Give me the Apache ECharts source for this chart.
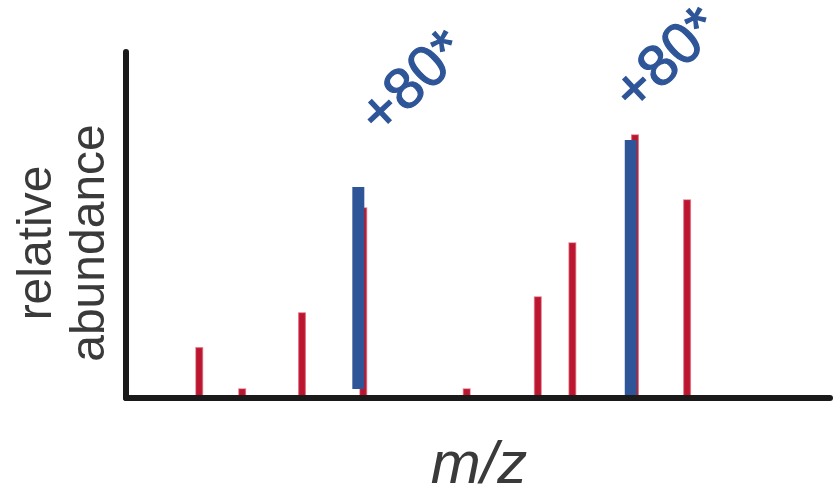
<!DOCTYPE html>
<html>
<head>
<meta charset="utf-8">
<script src="https://cdn.jsdelivr.net/npm/echarts@6/dist/echarts.min.js"></script>
<style>html,body{margin:0;padding:0;background:#fff;}#c{width:835px;height:490px;}</style>
</head>
<body>
<div id="c"></div>
<script>
// m/z positions (arbitrary units, 0-100) and relative abundance (0-100)
var redMz = [10.4, 16.5, 25.0, 33.7, 48.4, 58.5, 63.4, 72.3, 79.7];
var redAbund = [14.5, 2.6, 24.6, 54.9, 2.6, 29.2, 44.8, 76.0, 57.2];
var blueMz = [33.0, 71.7];
var blueLow = [2.6, 0.3];
var blueHigh = [61.0, 74.6];
var blueLabels = ['+80*', '+80*'];
var xTitle = 'm/z';
var yTitle = 'relative\nabundance';

var redData = redMz.map(function (m, i) { return [m, 0, redAbund[i]]; });
var blueData = blueMz.map(function (m, i) { return [m, blueLow[i], blueHigh[i]]; });

function stick(width, color, edge) {
  return function (params, api) {
    var top = api.coord([api.value(0), api.value(2)]);
    var bot = api.coord([api.value(0), api.value(1)]);
    return {
      type: 'rect',
      shape: { x: top[0] - width / 2, y: top[1], width: width, height: bot[1] - top[1] },
      style: { fill: color, stroke: edge || null, lineWidth: edge ? 1.5 : 0 }
    };
  };
}

var chart = echarts.init(document.getElementById('c'));
chart.setOption({
  animation: false,
  grid: { left: 126, right: 5, top: 52, bottom: 92 },
  xAxis: {
    type: 'value', min: 0, max: 100, z: 10,
    axisLine: { show: true, onZero: false, lineStyle: { color: '#1a1a1a', width: 6 } },
    axisTick: { show: false }, axisLabel: { show: false }, splitLine: { show: false }
  },
  yAxis: {
    type: 'value', min: 0, max: 100, z: 10,
    axisLine: { show: true, onZero: false, lineStyle: { color: '#1a1a1a', width: 6 } },
    axisTick: { show: false }, axisLabel: { show: false }, splitLine: { show: false }
  },
  series: [
    { type: 'custom', z: 2, renderItem: stick(6.5, '#bc1530', 'rgba(205,60,80,0.55)'), data: redData, encode: { x: 0, y: [1, 2] } },
    { type: 'custom', z: 3, renderItem: stick(12, '#2e5597'), data: blueData, encode: { x: 0, y: [1, 2] } }
  ],
  graphic: [
    { type: 'text', x: 414, y: 84, rotation: 43 * Math.PI / 180,
      style: { text: blueLabels[0], font: '58px "Liberation Sans", Arial, sans-serif', fill: '#2e5597', stroke: '#2e5597', lineWidth: 1.2, align: 'center', verticalAlign: 'middle' } },
    { type: 'text', x: 668, y: 61, rotation: 43 * Math.PI / 180,
      style: { text: blueLabels[1], font: '58px "Liberation Sans", Arial, sans-serif', fill: '#2e5597', stroke: '#2e5597', lineWidth: 1.2, align: 'center', verticalAlign: 'middle' } },
    { type: 'text', x: 64.5, y: 243, rotation: Math.PI / 2,
      style: { text: yTitle, font: '48px "Liberation Sans", Arial, sans-serif', lineHeight: 53, fill: '#3a3a3a', align: 'center', verticalAlign: 'middle' } },
    { type: 'text', x: 479, y: 466,
      style: { text: xTitle, font: 'italic 60px "Liberation Sans", Arial, sans-serif', fill: '#3a3a3a', align: 'center', verticalAlign: 'middle' } }
  ]
});
</script>
</body>
</html>
